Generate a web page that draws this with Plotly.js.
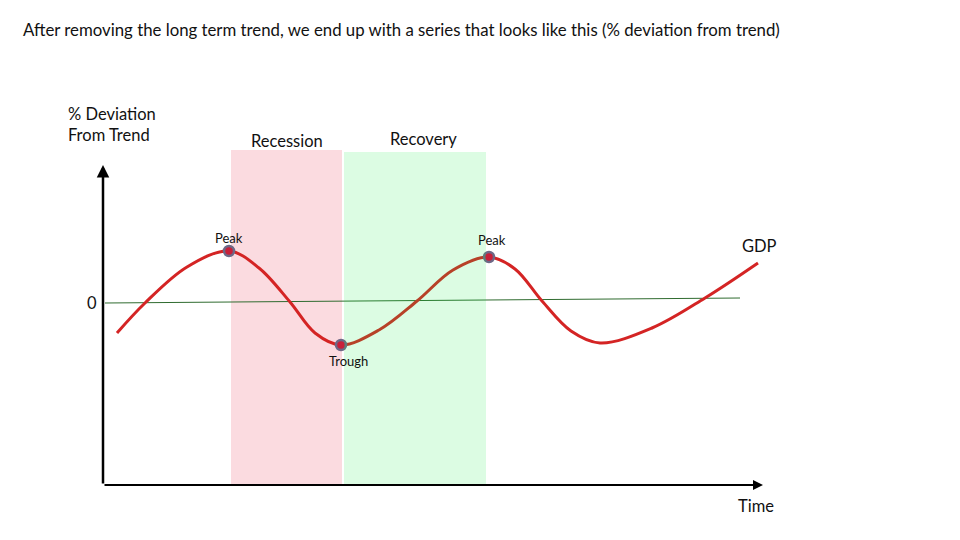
<!DOCTYPE html>
<html>
<head>
<meta charset="utf-8">
<script src="https://cdn.plot.ly/plotly-3.0.1.min.js"></script>
<style>html,body{margin:0;padding:0;background:#fff;}#chart{width:960px;height:540px;}</style>
</head>
<body>
<div id="chart"></div>
<script>
// Time (arbitrary units) and % deviation from trend
const timeX = [1.4, 4.2, 8.4, 12.6, 15.6, 18.7, 21.2, 23.8, 27.6, 31.4, 35.0, 38.6, 41.2, 43.9, 46.8, 49.7, 54.9, 60.2, 65.5];
const gdpY  = [-3.2, -0.2, 3.4, 5.0, 3.3, -0.1, -3.2, -4.4, -2.9, 0.0, 3.1, 4.4, 3.2, 0.0, -3.0, -4.2, -2.7, 0.3, 3.8];

// Turning points
const turnLabels = ["Peak", "Trough", "Peak"];
const turnX = [12.6, 23.8, 38.6];
const turnY = [5.0, -4.4, 4.4];

// Trend (zero) line
const trendX = [0.2, 63.7];
const trendY = [-0.2, 0.3];

// Phases
const phaseLabels = ["Recession", "Recovery"];
const phaseStart = [12.8, 24.1];
const phaseEnd = [23.9, 38.3];
const phaseTop = [15.1, 14.9];

const yMin = -18.4, yMax = 16.1, xMin = 0, xMax = 68;

const traces = [
  {x: trendX, y: trendY, mode: 'lines', line: {color: '#2f6b2f', width: 1}, hoverinfo: 'skip'},
  {x: timeX, y: gdpY, mode: 'lines', line: {color: '#d42424', width: 3, shape: 'spline', smoothing: 1}, hoverinfo: 'skip'},
  {x: turnX, y: turnY, mode: 'markers', marker: {color: '#c8203a', size: 10, line: {color: '#6e6886', width: 2.5}}, hoverinfo: 'skip'}
];

const phaseFill = ['#fbdbe0', 'rgb(22,235,68)'];
const phaseOpacity = [1, 0.15];
const phaseLayer = ['below', 'above'];
const shapes = phaseLabels.map((p, i) => ({
  type: 'rect', xref: 'x', yref: 'y', layer: phaseLayer[i], opacity: phaseOpacity[i],
  x0: phaseStart[i], x1: phaseEnd[i], y0: yMin, y1: phaseTop[i],
  fillcolor: phaseFill[i], line: {width: 0}
}));

const F = 'Lato, "Open Sans", sans-serif';
const FS = 16.5;
const shifts = [[0, 13], [7, -16], [3, 17]];
const annotations = [];
turnLabels.forEach((t, i) => annotations.push({
  x: turnX[i], y: turnY[i], xref: 'x', yref: 'y', text: t, showarrow: false,
  xshift: shifts[i][0], yshift: shifts[i][1], font: {family: F, size: 13, color: '#111'}
}));
function lab(text, x, y, extra) {
  annotations.push(Object.assign({x: x, y: y, xref: 'paper', yref: 'paper', xanchor: 'center', yanchor: 'middle',
    text: text, showarrow: false, font: {family: F, size: FS, color: '#111'}}, extra || {}));
}
lab(phaseLabels[0], 0.271, 0.997);
lab(phaseLabels[1], 0.472, 1.003);
lab('GDP', 0.966, 0.693);
lab('0', -0.016, 0.528);
lab('Time', 0.960, -0.061);
lab('% Deviation<br>From Trend', -0.054, 1.046, {xanchor: 'left', align: 'left'});
// axes arrows
annotations.push({x: 66.0, y: yMin, ax: 0, ay: yMin, xref: 'x', yref: 'y', axref: 'x', ayref: 'y', text: '', showarrow: true, arrowhead: 2, arrowsize: 1, arrowwidth: 2, arrowcolor: '#000'});
annotations.push({x: 0, y: 13.6, ax: 0, ay: yMin, xref: 'x', yref: 'y', axref: 'x', ayref: 'y', text: '', showarrow: true, arrowhead: 2, arrowsize: 1, arrowwidth: 2.5, arrowcolor: '#000'});

const axisOff = {showgrid: false, zeroline: false, showticklabels: false, showline: false, ticks: ''};
const layout = {
  width: 960, height: 540,
  margin: {l: 103, r: 177, t: 140, b: 55},
  paper_bgcolor: '#fff', plot_bgcolor: 'rgba(0,0,0,0)',
  showlegend: false,
  title: {text: 'After removing the long term trend, we end up with a series that looks like this (% deviation from trend)',
    x: 23/960, xref: 'container', xanchor: 'left', y: 1 - 30/540, yref: 'container', yanchor: 'middle',
    font: {family: F, size: 16.8, color: '#111'}},
  xaxis: Object.assign({range: [xMin, xMax]}, axisOff),
  yaxis: Object.assign({range: [yMin, yMax]}, axisOff),
  shapes: shapes,
  annotations: annotations
};
Plotly.newPlot('chart', traces, layout, {staticPlot: true, displayModeBar: false});
</script>
</body>
</html>
